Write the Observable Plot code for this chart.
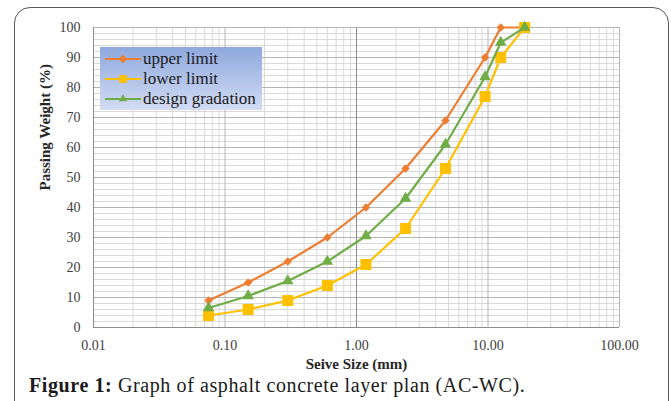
<!DOCTYPE html>
<html><head><meta charset="utf-8">
<script src="https://cdn.jsdelivr.net/npm/d3@7"></script>
<script src="https://cdn.jsdelivr.net/npm/@observablehq/plot@0.6"></script>
<style>
html,body{margin:0;padding:0;background:#fff;overflow:hidden;}
#wrap{position:relative;width:671px;height:401px;overflow:hidden;}
#frame{position:absolute;left:14px;top:7px;width:655px;height:440px;border:1.5px solid #5a5a5a;border-radius:16px;box-sizing:border-box;}
#chart{position:absolute;left:0;top:0;}
#legend{position:absolute;left:100px;top:47px;width:162px;height:63px;background:linear-gradient(to bottom,#8ea8de,#d3dcf3);box-sizing:border-box;padding-top:2px;}
.lg{display:flex;align-items:center;height:20px;font-size:17px;color:#1a1a1a;font-family:'Liberation Serif';white-space:nowrap;}
.lg svg{margin-left:5px;margin-right:2px;flex:none;}
#caption{position:absolute;left:29px;top:374px;font-size:20px;letter-spacing:0.6px;color:#1a1a1a;white-space:nowrap;font-family:'Liberation Serif';}
#chart svg text{font-family:'Liberation Serif';}
</style>
</head><body>
<div id="wrap">
<div id="frame"></div>
<div id="chart"></div>
<div id="legend"></div>
<div id="caption"><b>Figure 1:</b> Graph of asphalt concrete layer plan (AC-WC).</div>
</div>
<script>
// Data
const sieveSize = [0.075, 0.15, 0.3, 0.6, 1.18, 2.36, 4.75, 9.5, 12.5, 19];
const upperLimit = [9, 15, 22, 30, 40, 53, 69, 90, 100, 100];
const lowerLimit = [4, 6, 9, 14, 21, 33, 53, 77, 90, 100];
const designGradation = [6.5, 10.5, 15.5, 22, 30.5, 43, 61, 83.5, 95, 100];
const seriesNames = ["upper limit", "lower limit", "design gradation"];
const xTicks = [0.01, 0.1, 1, 10, 100];
const yTicks = [0, 10, 20, 30, 40, 50, 60, 70, 80, 90, 100];

const styles = {
  "upper limit": {color: "#ED7D31", symbol: "diamond2", r: 3.8, d3sym: d3.symbolDiamond2},
  "lower limit": {color: "#FFC000", symbol: "square", r: 6.2, d3sym: d3.symbolSquare},
  "design gradation": {color: "#70AD47", symbol: "triangle", r: 4.3, d3sym: d3.symbolTriangle}
};
const values = [upperLimit, lowerLimit, designGradation];
const seriesRows = seriesNames.map((name, k) => sieveSize.map((x, i) => ({series: name, x, y: values[k][i]})));

const yMinor = d3.range(0, 101, 2);
const xMinor = [];
[0.01, 0.1, 1, 10].forEach(d => { for (let k = 2; k <= 9; k++) xMinor.push(d * k); });

const marks = [
  Plot.ruleY(yMinor, {stroke: "#d9d9d9", strokeWidth: 1}),
  Plot.ruleX(xMinor, {stroke: "#d9d9d9", strokeWidth: 1}),
  Plot.ruleY(yTicks, {stroke: "#b5b5b5", strokeWidth: 1}),
  Plot.ruleX(xTicks, {stroke: "#b5b5b5", strokeWidth: 1}),
  Plot.ruleY([0], {stroke: "#8c8c8c", strokeWidth: 1}),
  Plot.ruleX([0.01], {stroke: "#8c8c8c", strokeWidth: 1}),
  Plot.ruleX([1], {stroke: "#8c8c8c", strokeWidth: 1}),
  Plot.axisX({ticks: xTicks, tickFormat: d3.format(".2f"), tickSize: 0, tickPadding: 13, label: null}),
  Plot.axisY({ticks: yTicks, tickSize: 0, tickPadding: 13, label: null}),
  Plot.text(["Seive Size (mm)"], {text: d => d, frameAnchor: "bottom", dy: 41, fontWeight: "bold", fontSize: 15, fill: "#262626"}),
  Plot.text(["Passing Weight (%)"], {text: d => d, frameAnchor: "left", dx: -48, dy: 13, rotate: -90, fontWeight: "bold", fontSize: 15, fill: "#262626"})
];
seriesRows.forEach(rows => {
  const s = styles[rows[0].series];
  marks.push(Plot.line(rows, {x: "x", y: "y", stroke: s.color, strokeWidth: 2.2}));
  marks.push(Plot.dot(rows, {x: "x", y: "y", symbol: () => s.symbol, r: s.r, fill: s.color, stroke: "none"}));
});

const chart = Plot.plot({
  width: 671,
  height: 370,
  marginLeft: 93,
  marginRight: 52,
  marginTop: 27,
  marginBottom: 43,
  style: {fontSize: "14px", color: "#404040", background: "transparent", overflow: "visible"},
  x: {type: "log", domain: [0.01, 100]},
  y: {domain: [0, 100]},
  marks
});
document.getElementById("chart").append(chart);

// Legend
const legend = d3.select("#legend");
seriesNames.forEach(name => {
  const s = styles[name];
  const row = legend.append("div").attr("class", "lg");
  const svg = row.append("svg").attr("width", 36).attr("height", 20);
  svg.append("line").attr("x1", 0).attr("x2", 36).attr("y1", 10).attr("y2", 10).attr("stroke", s.color).attr("stroke-width", 2.2);
  svg.append("path").attr("transform", "translate(18,10)")
    .attr("d", d3.symbol(s.d3sym, Math.PI * s.r * s.r * (name === "upper limit" ? 1 : 0.5))())
    .attr("fill", s.color);
  row.append("span").text(name);
});
</script>
</body></html>
